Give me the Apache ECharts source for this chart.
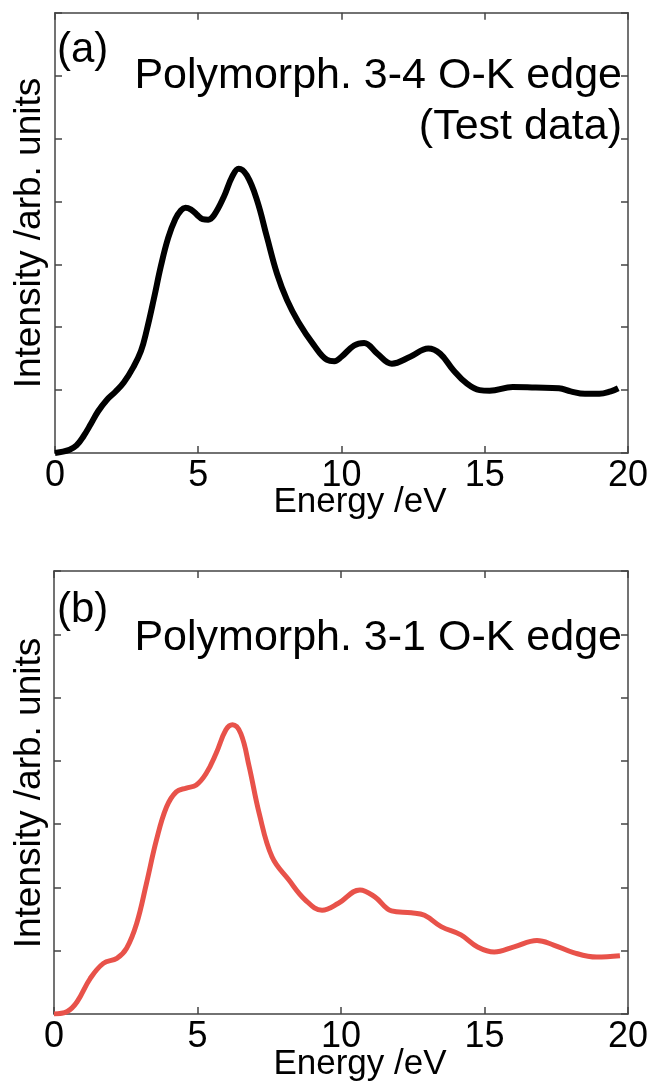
<!DOCTYPE html>
<html>
<head>
<meta charset="utf-8">
<script src="https://cdn.jsdelivr.net/npm/echarts@6/dist/echarts.min.js"></script>
<style>html,body{margin:0;padding:0;background:#fff}#c{width:651px;height:1084px}</style>
</head>
<body>
<div id="c"></div>
<script>
// Panel (a): Polymorph. 3-4 O-K edge (Test data)
const energyA = [0, 0.5, 0.75, 1.0, 1.25, 1.5, 1.8, 2.1, 2.4, 2.74, 3.0, 3.2, 3.45, 3.7, 3.95, 4.2, 4.4, 4.55, 4.75, 4.95, 5.15, 5.35, 5.55, 5.89, 6.18, 6.41, 6.7, 7.05, 7.4, 7.75, 8.1, 8.5, 9.03, 9.5, 9.75, 10.0, 10.44, 10.79, 11.25, 11.76, 12.4, 13.03, 13.44, 13.9, 14.36, 14.82, 15.17, 15.98, 16.78, 17.59, 18.0, 18.5, 19.0, 19.4, 19.66];
const intensityA = [0, 0.05, 0.12, 0.27, 0.46, 0.66, 0.84, 0.97, 1.12, 1.37, 1.62, 1.95, 2.45, 2.98, 3.42, 3.72, 3.86, 3.9, 3.87, 3.79, 3.72, 3.71, 3.78, 4.07, 4.39, 4.52, 4.41, 4.02, 3.43, 2.85, 2.43, 2.08, 1.72, 1.48, 1.46, 1.53, 1.71, 1.75, 1.58, 1.42, 1.53, 1.66, 1.58, 1.32, 1.11, 1.0, 0.99, 1.05, 1.04, 1.03, 0.98, 0.94, 0.94, 0.98, 1.03];
// Panel (b): Polymorph. 3-1 O-K edge
const energyB = [0, 0.46, 0.8, 1.26, 1.72, 2.19, 2.53, 2.88, 3.22, 3.57, 3.92, 4.26, 4.61, 4.96, 5.3, 5.65, 5.99, 6.22, 6.51, 6.8, 7.15, 7.6, 8.18, 8.76, 9.34, 9.91, 10.66, 11.18, 11.76, 12.45, 12.91, 13.49, 14.18, 14.76, 15.34, 16.03, 16.83, 17.41, 18.1, 18.91, 19.72];
const intensityB = [0, 0.04, 0.19, 0.56, 0.8, 0.88, 1.04, 1.43, 2.06, 2.75, 3.27, 3.51, 3.57, 3.62, 3.8, 4.12, 4.49, 4.57, 4.43, 3.91, 3.17, 2.48, 2.12, 1.8, 1.64, 1.75, 1.96, 1.85, 1.63, 1.6, 1.56, 1.38, 1.25, 1.06, 0.98, 1.06, 1.16, 1.09, 0.97, 0.9, 0.92];
const xTickLabels = ['0', '5', '10', '15', '20'];
const panelLabels = ['(a)', '(b)'];
const titleA = ['Polymorph. 3-4 O-K edge', '(Test data)'];
const titleB = ['Polymorph. 3-1 O-K edge'];
const xName = 'Energy /eV';
const yName = 'Intensity /arb. units';

const FONT = "'Liberation Sans', Arial, sans-serif";
const AX = '#444';
const chart = echarts.init(document.getElementById('c'), null, {renderer: 'canvas'});

const grids = [
  {left: 55, right: 19, top: 12.7, height: 440.3},
  {left: 54, right: 19.5, top: 571, height: 443}
];
function xAx(gi, pos, labels) {
  return {
    type: 'value', gridIndex: gi, position: pos, min: 0, max: 20, interval: 5,
    axisLine: {show: true, onZero: false, lineStyle: {color: AX, width: 1.5}},
    axisTick: {show: true, inside: true, length: 7, lineStyle: {color: AX, width: 1.5}},
    axisLabel: {show: labels, margin: 5, color: '#000', fontSize: 36, fontFamily: FONT,
      formatter: v => xTickLabels[Math.round(v / 5)]},
    splitLine: {show: false}
  };
}
function yAx(gi, pos) {
  return {
    type: 'value', gridIndex: gi, position: pos, min: 0, max: 7, interval: 1,
    axisLine: {show: true, onZero: false, lineStyle: {color: AX, width: 1.5}},
    axisTick: {show: true, inside: true, length: 7, lineStyle: {color: AX, width: 1.5}},
    axisLabel: {show: false},
    splitLine: {show: false}
  };
}
function pairs(xs, ys) { return xs.map((x, i) => [x, ys[i]]); }

const textStyle = (s) => ({fontSize: s, fontFamily: FONT, fill: '#000'});
function txt(x, y, text, align, size, rot) {
  return {type: 'text', x: x, y: y, rotation: rot || 0,
    style: Object.assign({text: text, textAlign: align, textVerticalAlign: 'middle'}, textStyle(size))};
}
const graphics = [
  txt(57, 50, panelLabels[0], 'left', 42),
  txt(622, 76, titleA[0], 'right', 43),
  txt(622, 127, titleA[1], 'right', 43),
  txt(57, 610, panelLabels[1], 'left', 42),
  txt(622, 638, titleB[0], 'right', 43),
  txt(30, 233, yName, 'center', 37, Math.PI / 2),
  txt(30, 793, yName, 'center', 37, Math.PI / 2),
  txt(360, 502, xName, 'center', 35),
  txt(360, 1064, xName, 'center', 35)
];

chart.setOption({
  animation: false,
  backgroundColor: '#fff',
  grid: grids,
  xAxis: [xAx(0, 'bottom', true), xAx(0, 'top', false), xAx(1, 'bottom', true), xAx(1, 'top', false)],
  yAxis: [yAx(0, 'left'), yAx(0, 'right'), yAx(1, 'left'), yAx(1, 'right')],
  series: [
    {type: 'line', xAxisIndex: 0, yAxisIndex: 0, data: pairs(energyA, intensityA), smooth: 0.4,
      showSymbol: false, lineStyle: {color: '#000', width: 6}, z: 5},
    {type: 'line', xAxisIndex: 2, yAxisIndex: 2, data: pairs(energyB, intensityB), smooth: 0.4,
      showSymbol: false, lineStyle: {color: '#E8524A', width: 5}, z: 5}
  ],
  graphic: graphics
});
</script>
</body>
</html>
